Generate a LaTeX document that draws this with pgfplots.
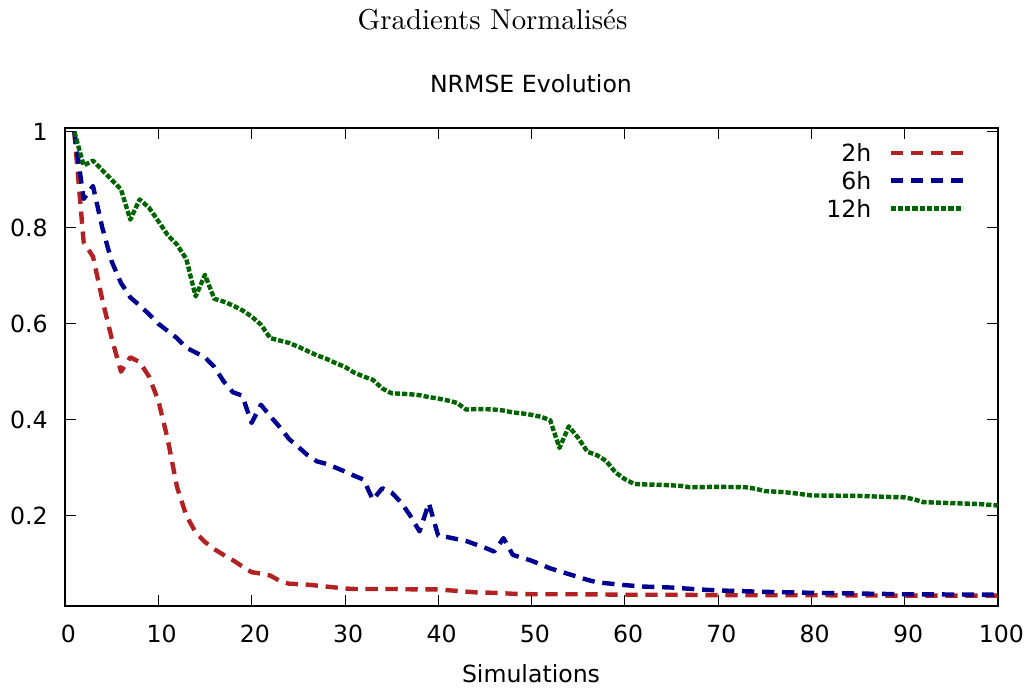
\documentclass[border=0pt]{standalone}
\usepackage{fontspec}
\usepackage{pgfplots}
\pgfplotsset{compat=1.18}
\newfontfamily\djv{DejaVu Sans}
\newfontfamily\lmten{lmroman10-regular.otf}
\definecolor{cred}{RGB}{178,34,34}
\definecolor{cblue}{RGB}{0,0,145}
\definecolor{cgreen}{RGB}{0,100,0}
\begin{document}
\begin{tikzpicture}
\useasboundingbox (0,0) rectangle (771.75pt,516.75pt);
\begin{axis}[
  at={(48.75pt,62.25pt)}, anchor=south west,
  scale only axis, width=699.75pt, height=358.5pt,
  xmin=0, xmax=100, ymin=0.0115, ymax=1.008,
  xtick={0,10,...,100}, ytick={0.2,0.4,0.6,0.8,1},
  tick align=inside, major tick length=8pt,
  axis line style={line width=0.8pt}, tick style={line width=0.6pt, black},
  /pgf/number format/assume math mode=true,
  ticklabel style={font=\djv\fontsize{17.7}{21}\selectfont},
  xticklabel style={anchor=base, inner sep=0pt, yshift=-27.75pt, xshift=2.5pt},
  yticklabel style={anchor=east, inner sep=0pt, xshift=-12.75pt},
  no markers,
  every axis plot/.append style={line width=3.3pt, line join=round},
  legend style={draw=none, fill=none, at={(0.9646,0.9663)}, anchor=north east,
    inner sep=0pt, outer sep=0pt, row sep=8pt, column sep=13pt,
    font=\djv\fontsize{17.7}{21}\selectfont,
    nodes={inner sep=0pt, text height=12.9pt, text depth=0pt}},
  legend cell align=right, legend plot pos=right,
  legend image code/.code={\draw[#1] (0pt,0pt) -- (54pt,0pt);},
]
\addplot[cred, dash pattern=on 9.2pt off 5.8pt] coordinates {
(1,1.0)(2,0.77)(3,0.74)(4,0.65)(5,0.57)(6,0.50)(7,0.53)(8,0.52)(9,0.49)(10,0.44)
(11,0.36)(12,0.26)(13,0.20)(14,0.165)(15,0.145)(16,0.13)(17,0.118)(18,0.107)(19,0.094)(20,0.082)
(21,0.079)(22,0.075)(23,0.064)(24,0.058)(25,0.057)(26,0.056)(27,0.054)(28,0.052)(29,0.05)(30,0.048)
(31,0.047)(33,0.047)(35,0.047)(38,0.046)(40,0.046)(42,0.043)(44,0.040)(46,0.039)(48,0.037)(50,0.036)
(55,0.036)(60,0.035)(65,0.035)(70,0.034)(80,0.034)(90,0.033)(100,0.033)};
\addlegendentry{2h}
\addplot[cblue, dash pattern=on 9.2pt off 5.8pt] coordinates {
(1,1.0)(2,0.86)(3,0.887)(4,0.80)(5,0.73)(6,0.685)(7,0.655)(8,0.638)(9,0.62)(10,0.60)
(11,0.585)(12,0.57)(13,0.55)(14,0.54)(15,0.53)(16,0.51)(17,0.48)(18,0.457)(19,0.45)(20,0.393)
(21,0.431)(22,0.407)(23,0.385)(24,0.36)(25,0.343)(26,0.326)(27,0.313)(28,0.308)(29,0.30)(30,0.292)
(31,0.283)(32,0.275)(33,0.233)(34,0.257)(35,0.248)(36,0.228)(37,0.20)(38,0.167)(39,0.226)(40,0.158)
(41,0.155)(42,0.151)(43,0.147)(44,0.14)(45,0.133)(46,0.125)(47,0.153)(48,0.118)(49,0.112)(50,0.106)
(51,0.098)(52,0.09)(53,0.084)(54,0.078)(55,0.072)(56,0.066)(57,0.061)(58,0.059)(60,0.055)(62,0.052)
(65,0.05)(68,0.046)(70,0.044)(75,0.041)(80,0.039)(90,0.036)(100,0.035)};
\addlegendentry{6h}
\addplot[cgreen, dash pattern=on 3.9pt off 1.5pt] coordinates {
(1,1.0)(2,0.93)(3,0.94)(4,0.92)(5,0.90)(6,0.88)(7,0.817)(8,0.859)(9,0.842)(10,0.814)
(11,0.785)(12,0.765)(13,0.735)(14,0.657)(15,0.702)(16,0.652)(17,0.646)(18,0.638)(19,0.628)(20,0.615)
(21,0.598)(22,0.57)(23,0.565)(24,0.56)(25,0.552)(26,0.543)(27,0.534)(28,0.527)(29,0.518)(30,0.51)
(31,0.498)(32,0.49)(33,0.483)(34,0.465)(35,0.455)(36,0.454)(37,0.453)(38,0.451)(39,0.447)(40,0.444)
(41,0.44)(42,0.435)(43,0.421)(44,0.422)(45,0.422)(46,0.421)(47,0.419)(48,0.415)(49,0.413)(50,0.41)
(51,0.406)(52,0.399)(53,0.341)(54,0.386)(55,0.362)(56,0.333)(57,0.326)(58,0.314)(59,0.29)(60,0.276)
(61,0.266)(62,0.265)(64,0.264)(66,0.262)(67,0.259)(70,0.26)(73,0.259)(74,0.256)(75,0.251)(77,0.249)
(78,0.247)(80,0.242)(85,0.241)(88,0.239)(90,0.238)(91,0.234)(92,0.228)(95,0.226)(98,0.224)(100,0.221)};
\addlegendentry{12h}
\end{axis}
\node[anchor=base, inner sep=0pt, font=\lmten\fontsize{21.6}{26}\selectfont] at (369.4pt,494.25pt) {Gradients Normalisés};
\node[anchor=base, inner sep=0pt, font=\djv\fontsize{17.7}{21}\selectfont] at (398.25pt,447pt) {NRMSE Evolution};
\node[anchor=base, inner sep=0pt, font=\djv\fontsize{17.7}{21}\selectfont] at (398.25pt,4.5pt) {Simulations};
\end{tikzpicture}
\end{document}
